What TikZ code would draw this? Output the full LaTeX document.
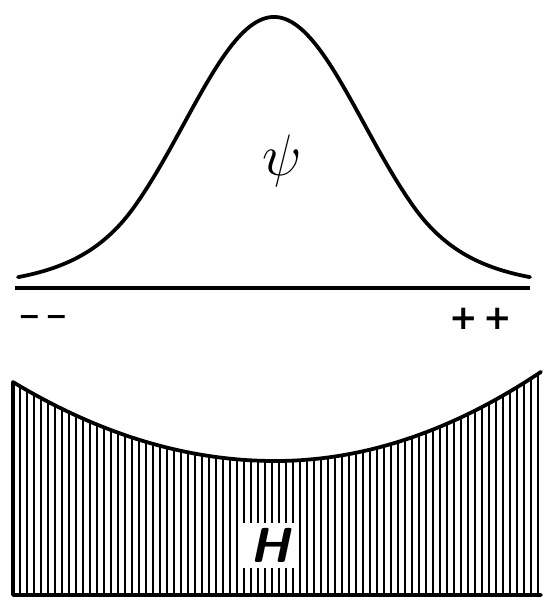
\RequirePackage{fix-cm}
\documentclass[tikz,border=0pt]{standalone}
\usepackage{fontspec}
\newfontfamily\signfont{DejaVu Sans}
\begin{document}
\begin{tikzpicture}[
    x=0.03cm, y=-0.03cm,
    declare function={bump(\t)=(\t<1.4 ? \t*\t : 2.8*\t-1.96)/1.62;},
    curve/.style={line width=3.2pt, line join=round, line cap=round},
    hatchline/.style={line width=2.4pt},
    signlabel/.style={inner sep=0pt}
]
    % --- Wave packet ---
    \draw[curve] plot[domain=18:530, samples=160, smooth]
        (\x, {288-271*exp(-bump(abs(\x-274)/100))});
    \draw[line width=2.8pt] (15,288) -- (530,288);

    \node (psi) at (282,161) {\fontsize{50}{52}\selectfont $\psi$};
    \node[signlabel] (minus) at (43,320) {\fontsize{23}{25}\selectfont\signfont\bfseries −\,−};
    \node[signlabel] (plus) at (481,319) {\fontsize{29}{31}\selectfont\signfont\bfseries +\,+};

    % --- Potential ---
    \begin{scope}
        \clip (13,597) -- plot[domain=13:541, samples=80, smooth]
            (\x, {461-(\x<275 ? 11.5 : 12.6)*((\x-275)/100)^2}) -- (541,597) -- cycle;
        \foreach \i in {0,...,76}
            \draw[hatchline] ({13+7*\i},360) -- ({13+7*\i},597);
    \end{scope}
    \draw[curve] (541,595) -- (13,595) -- plot[domain=13:541, samples=80, smooth]
        (\x, {461-(\x<275 ? 11.5 : 12.6)*((\x-275)/100)^2});

    \node[fill=white, minimum width=1.68cm, minimum height=1.35cm, inner sep=0pt] (H) at (270,545)
        {\fontsize{42}{44}\selectfont\sffamily\bfseries\slshape H};

    \useasboundingbox (0,0) rectangle (541,597);
\end{tikzpicture}
\end{document}
